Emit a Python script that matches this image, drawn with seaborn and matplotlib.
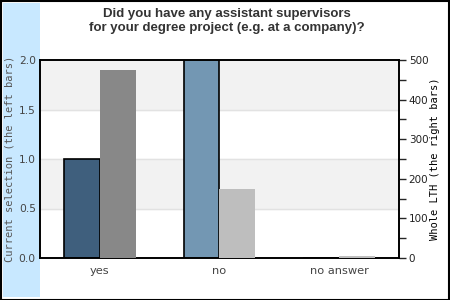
import matplotlib
matplotlib.use("Agg")
import matplotlib.pyplot as plt
import seaborn as sns
import pandas as pd
import numpy as np
from matplotlib.patches import Rectangle

categories = ["yes", "no", "no answer"]
current_selection = [1.0, 2.0, 0.0]
whole_lth = [475, 175, 5]
left_ticks = [0.0, 0.5, 1.0, 1.5, 2.0]
right_ticks = [0, 100, 200, 300, 400, 500]

sns.set_style("white")
plt.rcParams['font.family'] = ['DejaVu Sans']

fig = plt.figure(figsize=(4.5, 3.0), dpi=100)
fig.patch.set_facecolor("white")
# light blue strip and frame
fig.add_artist(Rectangle((3/450, 3/300), 37/450, 294/300, transform=fig.transFigure,
                         facecolor="#c8e8ff", edgecolor="none", zorder=0))
fig.add_artist(Rectangle((0.5/450, 0.5/300), 448.5/450, 298.5/300, transform=fig.transFigure,
                         facecolor="none", edgecolor="black", linewidth=1.5, zorder=10))

ax = fig.add_axes([40/450, 42/300, 359/450, 198/300])
ax.set_facecolor("none")

df_left = pd.DataFrame({"cat": categories * 2,
                        "series": ["left"] * 3 + ["right"] * 3,
                        "val": current_selection + [np.nan] * 3})
df_right = pd.DataFrame({"cat": categories * 2,
                         "series": ["left"] * 3 + ["right"] * 3,
                         "val": [np.nan] * 3 + whole_lth})

sns.barplot(data=df_left, x="cat", y="val", hue="series", order=categories,
            hue_order=["left", "right"], width=0.6, ax=ax, legend=False,
            edgecolor="black", linewidth=1.2, saturation=1, errorbar=None, zorder=3)
left_colors = ["#3f5f7d", "#7397b3", "#7397b3"]
bars_l = [p for p in ax.patches if not np.isnan(p.get_height())]
bars_l.sort(key=lambda p: p.get_x())
for p, c in zip(bars_l, left_colors):
    p.set_facecolor(c)

ax.set_ylim(0, 2.0)
ax.set_xlim(-0.5, 2.5)
for lo, hi in [(0.5, 1.0), (1.5, 2.0)]:
    ax.axhspan(lo, hi, color="#f2f2f2", zorder=0)
for y in [0.5, 1.0, 1.5]:
    ax.axhline(y, color="#e2e2e2", linewidth=1, zorder=1)
ax.set_yticks(left_ticks)
ax.set_yticklabels([f"{v:.1f}" for v in left_ticks])
ax.tick_params(axis="y", length=0, pad=3, labelsize=7.7, labelcolor="#444444")
ax.tick_params(axis="x", length=0, pad=6, labelsize=8.2, labelcolor="#444444")
ax.set_xlabel("")
ax.set_ylabel("Current selection (the left bars)", family="DejaVu Sans Mono",
              fontsize=7.5, color="#555555")
ax.yaxis.set_label_coords(-25/359, 0.5)
for s in ax.spines.values():
    s.set_color("black")
    s.set_linewidth(1.2)

ax2 = ax.twinx()
sns.barplot(data=df_right, x="cat", y="val", hue="series", order=categories,
            hue_order=["left", "right"], width=0.6, ax=ax2, legend=False,
            edgecolor="none", linewidth=0, saturation=1, errorbar=None, zorder=3)
right_colors = ["#888888", "#bebebe", "#bebebe"]
bars_r = [p for p in ax2.patches if not np.isnan(p.get_height())]
bars_r.sort(key=lambda p: p.get_x())
for p, c in zip(bars_r, right_colors):
    p.set_facecolor(c)
ax2.set_ylim(0, 500)
ax2.set_xlim(-0.5, 2.5)
ax2.set_yticks(right_ticks)
ax2.set_yticks(np.arange(50, 500, 100), minor=True)
ax2.tick_params(axis="y", which="major", length=5, width=1, direction="out",
                pad=2, labelsize=7.5, labelcolor="#222222", right=True)
ax2.tick_params(axis="y", which="minor", length=5, width=1, direction="out", right=True)
ax2.set_ylabel("Whole LTH (the right bars)", family="DejaVu Sans Mono",
               fontsize=7.5, color="black")
ax2.yaxis.set_label_coords(390/359, 0.5)
ax2.set_xlabel("")
for s in ax2.spines.values():
    s.set_color("black")
    s.set_linewidth(1.2)

fig.text(227/450, 1 - 8/300,
         "Did you have any assistant supervisors\nfor your degree project (e.g. at a company)?",
         ha="center", va="top", fontsize=9.5, fontweight="bold", color="#333333",
         family="Liberation Sans", linespacing=1.25, multialignment="center")

fig.savefig("out.png", dpi=100)
